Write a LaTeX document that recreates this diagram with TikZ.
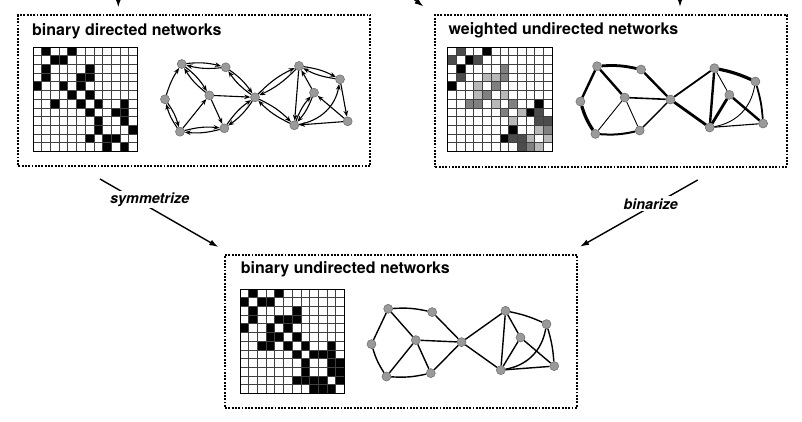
\documentclass[tikz,border=0pt]{standalone}
\usepackage{fontspec}
\setmainfont{TeX Gyre Heros}
\usetikzlibrary{arrows.meta}
\definecolor{vgray}{HTML}{9A9A9A}
\definecolor{vedge}{HTML}{6A6A6A}
\definecolor{gridc}{HTML}{404040}
\begin{document}
\begin{tikzpicture}[x=1pt,y=-1pt,
  box/.style={draw, line width=2pt, dash pattern=on 1.9pt off 1.4pt, anchor=north west, inner sep=0pt},
  ttl/.style={font=\bfseries\fontsize{16}{18}\selectfont, anchor=base west, inner sep=0pt},
  opl/.style={font=\bfseries\itshape\fontsize{14.4}{16}\selectfont, anchor=base west, fill=white, inner sep=2pt},
  bigarr/.style={line width=1.4pt, -{Latex[length=9pt,width=6pt]}},
  vtx/.style={circle, fill=vgray, draw=vedge, line width=0.5pt, minimum size=9pt, inner sep=0pt},
  darr/.style={line width=1.1pt, -{Stealth[length=6pt,width=4.6pt]}},
  uedge/.style={line width=1.4pt},
  gridl/.style={draw=gridc, line width=0.8pt},
]
\useasboundingbox (0,0) rectangle (802,421);
\fill[white] (0,0) rectangle (802,421);

% boxes
\node[box, minimum width=352pt, minimum height=151pt] (box1) at (17.3,14) {};
\node[box, minimum width=351.7pt, minimum height=151.7pt] (box2) at (434.3,14) {};
\node[box, minimum width=352pt, minimum height=152.7pt] (box3) at (224,254) {};

% titles
\node[ttl] (t1) at (32,35) {binary directed networks};
\node[ttl] (t2) at (448.3,34.3) {weighted undirected networks};
\node[ttl] (t3) at (240.7,273.3) {binary undirected networks};

% matrix 1 : binary directed
\begin{scope}[shift={(33,47)}]
  \foreach \r/\cols in {0/{1,4},1/{2,3},2/{1,6},3/{1,5,6},4/{0,3,5},5/{4,6},6/{2,5,7,10},7/{6,9,10},8/{7,10},9/{7,11},10/{6,8,9},11/{8,10}}
    { \foreach \c in \cols { \fill[black] (\c*8.7,\r*8.7) rectangle ++(8.7,8.7); } }
  \foreach \k in {1,...,11} { \draw[gridl] (\k*8.7,0) -- ++(0,104.4); \draw[gridl] (0,\k*8.7) -- ++(104.4,0); }
  \draw[line width=1pt] (0,0) rectangle (104.4,104.4);
\end{scope}

% matrix 2 : weighted undirected
\begin{scope}[shift={(447.7,47)}]
  \foreach \i/\j/\g in {0/1/70,0/4/100,1/2/100,1/3/70,2/6/50,3/4/28,3/5/28,3/6/50,4/5/50,5/6/28,6/7/50,6/10/100,7/8/28,7/9/100,7/10/70,8/10/70,8/11/70,9/10/28,9/11/50,10/11/28}
    { \fill[black!\g] (\j*8.7,\i*8.7) rectangle ++(8.7,8.7);
      \fill[black!\g] (\i*8.7,\j*8.7) rectangle ++(8.7,8.7); }
  \foreach \k in {1,...,11} { \draw[gridl] (\k*8.7,0) -- ++(0,104.4); \draw[gridl] (0,\k*8.7) -- ++(104.4,0); }
  \draw[line width=1pt] (0,0) rectangle (104.4,104.4);
\end{scope}

% matrix 3 : binary undirected
\begin{scope}[shift={(240,289)}]
  \foreach \r/\cols in {0/{1,4},1/{0,2,3},2/{1,6},3/{1,4,5,6},4/{0,3,5},5/{3,4,6},6/{2,3,5,7,10},7/{6,8,9,10},8/{7,10,11},9/{7,10,11},10/{6,7,8,9,11},11/{8,9,10}}
    { \foreach \c in \cols { \fill[black] (\c*8.7,\r*8.7) rectangle ++(8.7,8.7); } }
  \foreach \k in {1,...,11} { \draw[gridl] (\k*8.7,0) -- ++(0,104.4); \draw[gridl] (0,\k*8.7) -- ++(104.4,0); }
  \draw[line width=1pt] (0,0) rectangle (104.4,104.4);
\end{scope}

% graph vertices
\foreach \p/\dx/\dy in {a/0/0, b/415.4/2.2, c/206.5/244.8} {
  \foreach \n/\x/\y in {A/181.7/64, B/225.7/67.3, C/165/99.3, D/209.3/95.3, E/255/97.3, F/180/131.7, G/224.3/128.3, H/299/66, I/340/79.3, J/314/92.7, K/294.3/125.3, L/347.7/121.3}
    { \node[vtx] (\p\n) at (\x+\dx,\y+\dy) {}; }
}

% graph 1 : directed
\foreach \s/\t in {A/B, C/F, A/D, F/G, B/E, G/E, E/H, E/K, H/I, K/J}
  { \draw[darr] (a\s) to[bend left=10] (a\t); \draw[darr] (a\t) to[bend left=10] (a\s); }
\foreach \s/\t in {F/D, D/E, D/G, H/K, J/H, I/L, L/J, L/K}
  { \draw[darr] (a\s) -- (a\t); }
\draw[darr] (aC) to[bend left=8] (aA);
\draw[darr] (aK) to[bend right=35] (aI);

% graph 2 : weighted
\foreach \s/\t/\w in {A/C/2.4, A/D/2.4, F/D/0.9, D/E/1.6, D/G/0.9, B/E/2.4, G/E/1.4, E/H/1.8, E/K/2.8, H/K/2.4, H/J/0.9, K/J/2.8, J/L/2.4, K/L/1.1}
  { \draw[line width=\w pt] (b\s) -- (b\t); }
\draw[line width=2.8pt] (bA) to[bend left=8] (bB);
\draw[line width=2.0pt] (bF) to[bend right=8] (bG);
\draw[line width=3.2pt] (bC) to[bend right=8] (bF);
\draw[line width=3.2pt] (bH) to[bend left=6] (bI);
\draw[line width=1.8pt] (bI) to[bend left=6] (bL);
\draw[line width=0.9pt] (bK) to[bend right=35] (bI);

% graph 3 : binary undirected
\foreach \s/\t in {A/C, A/D, F/D, D/E, D/G, B/E, G/E, E/H, E/K, H/K, H/J, K/J, J/L, K/L}
  { \draw[uedge] (c\s) -- (c\t); }
\draw[uedge] (cA) to[bend left=8] (cB);
\draw[uedge] (cF) to[bend right=8] (cG);
\draw[uedge] (cC) to[bend right=8] (cF);
\draw[uedge] (cH) to[bend left=6] (cI);
\draw[uedge] (cI) to[bend left=6] (cL);
\draw[uedge] (cK) to[bend right=35] (cI);

% arrows between panels
\coordinate (s0) at (100,179);
\coordinate (s1) at (218.3,247);
\coordinate (b0) at (697.7,180);
\coordinate (b1) at (580,246.7);
\draw[bigarr] (s0) -- (s1);
\draw[bigarr] (b0) -- (b1);
\node[opl] (lsym) at (108,203.3) {symmetrize};
\node[opl] (lbin) at (621.3,209) {binarize};

% arrows entering from above
\coordinate (u1a) at (118.3,-6);
\coordinate (u1b) at (118.3,7.5);
\coordinate (u2a) at (411,-3);
\coordinate (u2b) at (423.5,6.5);
\coordinate (u3a) at (680,-6);
\coordinate (u3b) at (680,7);
\draw[bigarr] (u1a) -- (u1b);
\draw[bigarr] (u2a) -- (u2b);
\draw[bigarr] (u3a) -- (u3b);
\end{tikzpicture}
\end{document}
